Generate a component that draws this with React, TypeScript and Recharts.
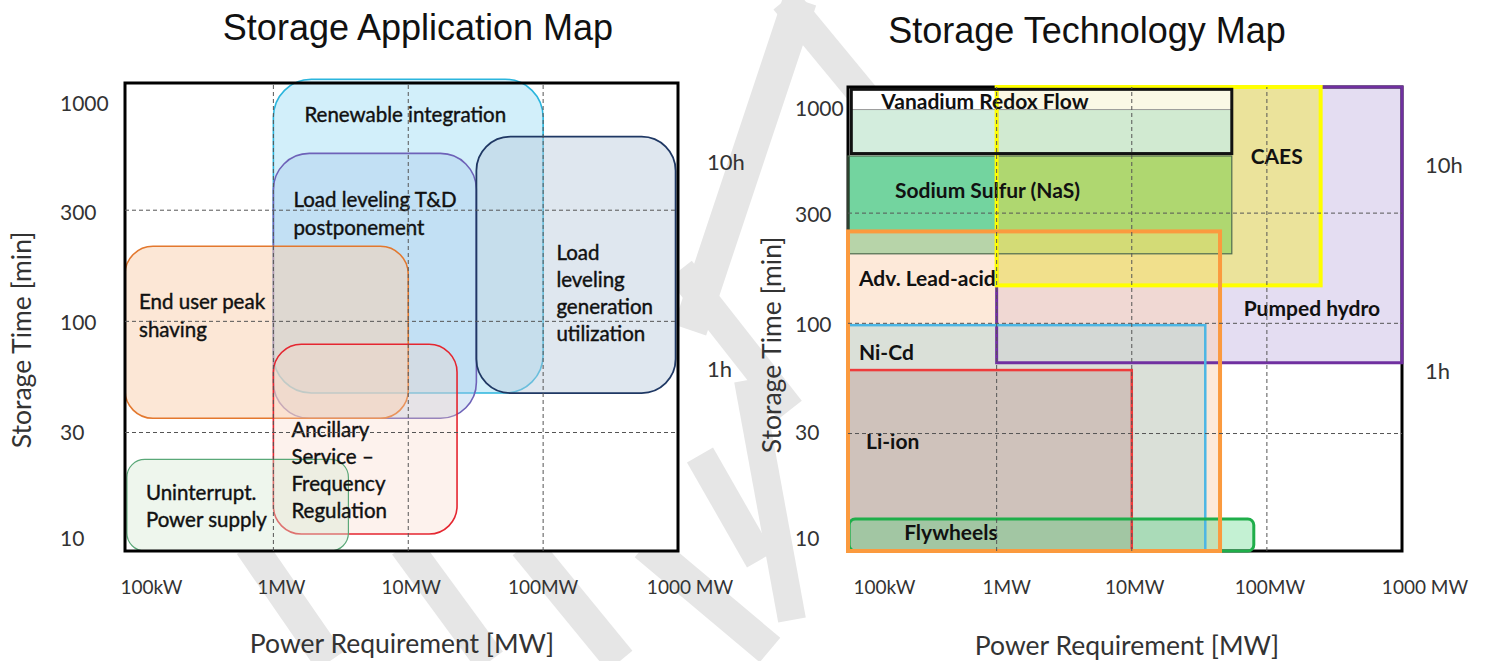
import React from 'react';
import { ComposedChart, XAxis, YAxis, ReferenceArea, ReferenceLine } from 'recharts';

// ---------------- axis data ----------------
const X_TICKS = [0.1, 1, 10, 100, 1000];
const X_TICK_LABELS = ['100kW', '1MW', '10MW', '100MW', '1000 MW'];
const Y_TICKS = [10, 30, 100, 300, 1000];
const Y_TICK_LABELS = ['10', '30', '100', '300', '1000'];
const HOUR_TICKS = [60, 600];
const HOUR_LABELS = ['1h', '10h'];
const X_GRID = [1, 10, 100];
const Y_GRID = [30, 100, 300];
const POWER_MIN = 0.0794;
const POWER_MAX = 1000;
const TIME_MIN = 9.3;
const TIME_MAX = 1190;

// ---------------- Storage Application Map ----------------
const APP_LINES = [
  ['Renewable integration'],
  ['Load leveling T&D', 'postponement'],
  ['Load', 'leveling', 'generation', 'utilization'],
  ['End user peak', 'shaving'],
  ['Ancillary', 'Service –', 'Frequency', 'Regulation'],
  ['Uninterrupt.', 'Power supply'],
];
const APP_P_LOW = [1, 1, 32, 0.0794, 1, 0.082];
const APP_P_HIGH = [100, 32, 960, 10, 23, 3.6];
const APP_T_LOW = [46, 35, 46, 35, 11, 9.3];
const APP_T_HIGH = [1240, 555, 665, 210, 78, 23];

// ---------------- Storage Technology Map ----------------
const TECH_LINES = [
  ['Pumped hydro'],
  ['Sodium Sulfur (NaS)'],
  ['Adv. Lead-acid'],
  ['CAES'],
  ['Vanadium Redox Flow'],
  ['Ni-Cd'],
  ['Li-ion'],
  ['Flywheels'],
];
const TECH_P_LOW = [1, 0.0794, 0.0794, 1, 0.084, 0.0794, 0.0794, 0.081];
const TECH_P_HIGH = [1000, 55, 45, 250, 55, 35, 10, 80];
const TECH_T_LOW = [65, 200, 9.3, 146, 575, 9.3, 9.3, 9.3];
const TECH_T_HIGH = [1190, 560, 250, 1190, 1160, 98, 60, 12.8];
const VRF_BAND_LOW = 575;
const VRF_BAND_HIGH = 930;

// ---------------- styles ----------------
const FONT = "Lato, 'Noto Sans', sans-serif";
const TITLE_FONT = "'Liberation Sans', Arial, sans-serif";
const GRID_STROKE = '#555';

const APP_STYLE = [
  { stroke: '#2bb5dd', fill: '#9bdcf4', fo: 0.45, sw: 1.6, rx: 38, dx: 31, dy: 35, lh: 27 },
  { stroke: '#6e62b8', fill: '#a9c8ea', fo: 0.38, sw: 1.6, rx: 36, dx: 20, dy: 46, lh: 28 },
  { stroke: '#1f3864', fill: '#b8c9dc', fo: 0.45, sw: 1.8, rx: 34, dx: 80, dy: 115, lh: 27 },
  { stroke: '#e3782e', fill: '#f9cfae', fo: 0.5, sw: 1.6, rx: 28, dx: 14, dy: 55, lh: 28 },
  { stroke: '#e52630', fill: '#f8d4c4', fo: 0.3, sw: 1.6, rx: 28, dx: 18, dy: 85, lh: 27 },
  { stroke: '#5aa878', fill: '#d5e9d2', fo: 0.4, sw: 1.2, rx: 18, dx: 19, dy: 33, lh: 27 },
];
// order: pumped, NaS, lead, CAES, VRF, NiCd, Li, Fly
const TECH_STYLE = [
  { stroke: '#7030a0', fill: '#b8a6dc', fo: 0.38, sw: 3, rx: 0, dx: 247, dy: 220 },
  { stroke: '#4f6b4f', fill: '#00b050', fo: 0.55, sw: 1.2, rx: 0, dx: 47, dy: 34 },
  { stroke: '#fb9a3e', fill: '#fbd4b4', fo: 0.5, sw: 4, rx: 0, dx: 11, dy: 46 },
  { stroke: '#ffff00', fill: '#f2e84a', fo: 0.52, sw: 4, rx: 0, dx: 254, dy: 68 },
  { stroke: '#111111', fill: '#ffffff', fo: 0.75, sw: 3, rx: 0, dx: 30, dy: 11 },
  { stroke: '#4db6e4', fill: '#b8d8d8', fo: 0.5, sw: 2.5, rx: 0, dx: 11, dy: 26 },
  { stroke: '#ee3b3b', fill: '#c4a39d', fo: 0.5, sw: 2.5, rx: 0, dx: 18, dy: 70 },
  { stroke: '#1fae4a', fill: '#3ccf6c', fo: 0.3, sw: 3, rx: 6, dx: 55, dy: 13 },
];
const TECH_FILL_ORDER = [0, 1, 2, 3, 4, 5, 6, 7];
const TECH_OUTLINE_ORDER = [0, 1, 3, 4, 5, 6, 7, 2];

const APP_X_DX = [13, 8, 3, 0, 12];
const APP_Y_DY = [-6, -1.5, 0, 1.5, 3.5];
const TECH_X_DX = [23, 10, 3, 3, 23];
const TECH_Y_DY = [-6.5, -2, 0, 0, 4.5];
const HOUR_DY = [0, 15];

// piecewise-log position between the (equally spaced) time ticks
function yPos(v: number): number {
  const t = Y_TICKS;
  let i = 0;
  if (v <= t[1]) i = 0;
  else if (v >= t[t.length - 2]) i = t.length - 2;
  else {
    while (v > t[i + 1]) i++;
  }
  return i + Math.log(v / t[i]) / Math.log(t[i + 1] / t[i]);
}
const Y_DOMAIN = [yPos(TIME_MIN), yPos(TIME_MAX)];

function Box(props: any) {
  const { x, y, width, height, st, mode } = props;
  if (x == null || !isFinite(x) || !isFinite(y)) return null;
  const rx = Math.min(st.rx || 0, width / 2, height / 2);
  return (
    <rect
      x={x}
      y={y}
      width={width}
      height={height}
      rx={rx}
      ry={rx}
      fill={mode === 'fill' || mode === 'both' ? st.fill : 'none'}
      fillOpacity={st.fo}
      stroke={mode === 'stroke' || mode === 'both' ? st.stroke : 'none'}
      strokeWidth={st.sw}
    />
  );
}

function Lines(props: any) {
  const { x, y, lines, st, size, weight, thick } = props;
  if (x == null || !isFinite(x)) return null;
  return (
    <text fontFamily={FONT} fontSize={size} fontWeight={weight} fill="#111" stroke={thick ? '#111' : 'none'} strokeWidth={thick || 0}>
      {lines.map((l: string, i: number) => (
        <tspan key={i} x={x + st.dx} y={y + st.dy + i * (st.lh || 27)} dominantBaseline="central">
          {l}
        </tspan>
      ))}
    </text>
  );
}

function makeXTick(dxs: number[]) {
  return (p: any) => {
    const i = X_TICKS.indexOf(p.payload.value);
    return (
      <text x={p.x + (dxs[i] || 0)} y={594} textAnchor="middle" fontFamily={FONT} fontSize={19} fill="#333">
        {X_TICK_LABELS[i]}
      </text>
    );
  };
}
function makeYTick(startX: number, dys: number[]) {
  return (p: any) => {
    const i = Y_TICKS.map(yPos).findIndex((v) => Math.abs(v - p.payload.value) < 1e-6);
    return (
      <text x={startX} y={p.y + (dys[i] || 0)} dominantBaseline="central" fontFamily={FONT} fontSize={21} fill="#333">
        {Y_TICK_LABELS[i]}
      </text>
    );
  };
}
function makeHourTick(startX: number) {
  return (p: any) => {
    const i = HOUR_TICKS.map(yPos).findIndex((v) => Math.abs(v - p.payload.value) < 1e-6);
    return (
      <text x={startX} y={p.y + (HOUR_DY[i] || 0)} dominantBaseline="central" fontFamily={FONT} fontSize={22} fill="#333">
        {HOUR_LABELS[i]}
      </text>
    );
  };
}

function axes(leftStart: number, hourStart: number, xdx: number[], ydy: number[], lw: number, rw: number) {
  return [
    <XAxis
      key="x"
      xAxisId="p"
      type="number"
      dataKey="p"
      scale="log"
      domain={[POWER_MIN, POWER_MAX]}
      ticks={X_TICKS}
      interval={0}
      allowDataOverflow
      axisLine={false}
      tickLine={false}
      height={50}
      tick={makeXTick(xdx)}
    />,
    <YAxis
      key="y"
      yAxisId="m"
      type="number"
      domain={Y_DOMAIN}
      ticks={Y_TICKS.map(yPos)}
      interval={0}
      allowDataOverflow
      axisLine={false}
      tickLine={false}
      width={lw}
      tick={makeYTick(leftStart, ydy)}
    />,
    <YAxis
      key="h"
      yAxisId="h"
      orientation="right"
      type="number"
      domain={Y_DOMAIN}
      ticks={HOUR_TICKS.map(yPos)}
      interval={0}
      allowDataOverflow
      axisLine={false}
      tickLine={false}
      width={rw}
      tick={makeHourTick(hourStart)}
    />,
  ];
}

function gridLines(prefix: string) {
  return [
    ...X_GRID.map((g) => (
      <ReferenceLine key={prefix + 'x' + g} xAxisId="p" yAxisId="m" x={g} stroke={GRID_STROKE} strokeDasharray="4 3" strokeWidth={1} ifOverflow="visible" />
    )),
    ...Y_GRID.map((g) => (
      <ReferenceLine key={prefix + 'y' + g} xAxisId="p" yAxisId="m" y={yPos(g)} stroke={GRID_STROKE} strokeDasharray="4 3" strokeWidth={1} ifOverflow="visible" />
    )),
  ];
}

const FRAME = { stroke: '#000', fill: '#fff', fo: 1, sw: 3, rx: 0 };

function area(key: string, p0: number, p1: number, t0: number, t1: number, shape: any) {
  return (
    <ReferenceArea
      key={key}
      xAxisId="p"
      yAxisId="m"
      x1={p0}
      x2={p1}
      y1={yPos(t0)}
      y2={yPos(t1)}
      ifOverflow="visible"
      shape={shape}
    />
  );
}

function AppMap() {
  const idx = APP_LINES.map((_, i) => i);
  return (
    <ComposedChart width={744} height={661} margin={{ top: 83, right: 16, bottom: 60, left: 60 }} data={[]}>
      {axes(60, 707, APP_X_DX, APP_Y_DY, 65, 50)}
      {area('bg', POWER_MIN, POWER_MAX, TIME_MIN, TIME_MAX, (p: any) => <Box {...p} st={FRAME} mode="fill" />)}
      {idx.map((i) =>
        area('a' + i, APP_P_LOW[i], APP_P_HIGH[i], APP_T_LOW[i], APP_T_HIGH[i], (p: any) => <Box {...p} st={APP_STYLE[i]} mode="both" />)
      )}
      {gridLines('g')}
      {area('fr', POWER_MIN, POWER_MAX, TIME_MIN, TIME_MAX, (p: any) => <Box {...p} st={FRAME} mode="stroke" />)}
      {idx.map((i) =>
        area('l' + i, APP_P_LOW[i], APP_P_HIGH[i], APP_T_LOW[i], APP_T_HIGH[i], (p: any) => (
          <Lines {...p} lines={APP_LINES[i]} st={APP_STYLE[i]} size={20.5} weight={400} thick={0.4} />
        ))
      )}
    </ComposedChart>
  );
}

function TechMap() {
  const vrf = 4;
  const bandStyle = { stroke: '#9a9a9a', fill: '#a8dcbc', fo: 0.5, sw: 1, rx: 0 };
  return (
    <ComposedChart width={744} height={661} margin={{ top: 87, right: 36, bottom: 60, left: 54 }} data={[]}>
      {axes(51, 1425 - 744, TECH_X_DX, TECH_Y_DY, 50, 50)}
      {area('bg', POWER_MIN, POWER_MAX, TIME_MIN, TIME_MAX, (p: any) => <Box {...p} st={FRAME} mode="fill" />)}
      {gridLines('g')}
      {TECH_FILL_ORDER.map((i) =>
        area('f' + i, TECH_P_LOW[i], TECH_P_HIGH[i], TECH_T_LOW[i], TECH_T_HIGH[i], (p: any) => <Box {...p} st={TECH_STYLE[i]} mode="fill" />)
      )}
      {area('band', TECH_P_LOW[vrf], TECH_P_HIGH[vrf], VRF_BAND_LOW, VRF_BAND_HIGH, (p: any) => <Box {...p} st={bandStyle} mode="both" />)}
      {area('fr', POWER_MIN, POWER_MAX, TIME_MIN, TIME_MAX, (p: any) => <Box {...p} st={FRAME} mode="stroke" />)}
      {TECH_OUTLINE_ORDER.map((i) =>
        area('o' + i, TECH_P_LOW[i], TECH_P_HIGH[i], TECH_T_LOW[i], TECH_T_HIGH[i], (p: any) => <Box {...p} st={TECH_STYLE[i]} mode="stroke" />)
      )}
      {TECH_LINES.map((_, i) =>
        area('l' + i, TECH_P_LOW[i], TECH_P_HIGH[i], TECH_T_LOW[i], TECH_T_HIGH[i], (p: any) => (
          <Lines {...p} lines={TECH_LINES[i]} st={TECH_STYLE[i]} size={21} weight={700} thick={0} />
        ))
      )}
    </ComposedChart>
  );
}

const WATERMARK = [
  [800, 0, 690, 330, 34],
  [785, 0, 880, 115, 30],
  [680, 270, 790, 410, 30],
  [748, 380, 792, 620, 28],
  [250, 545, 330, 661, 32],
  [405, 545, 490, 661, 32],
  [525, 545, 620, 661, 32],
  [645, 545, 770, 650, 32],
  [700, 455, 760, 560, 30],
];

export default function App() {
  return (
    <div style={{ position: 'absolute', left: 0, top: 0, width: 1488, height: 661, background: '#fff', overflow: 'hidden' }}>
      <svg width={1488} height={661} style={{ position: 'absolute', left: 0, top: 0 }}>
        {WATERMARK.map((w, i) => (
          <line key={i} x1={w[0]} y1={w[1]} x2={w[2]} y2={w[3]} stroke="#e6e6e6" strokeWidth={w[4]} />
        ))}
      </svg>
      <div style={{ position: 'absolute', left: 0, top: 0 }}>
        <AppMap />
      </div>
      <div style={{ position: 'absolute', left: 744, top: 0 }}>
        <TechMap />
      </div>
      <svg width={1488} height={661} style={{ position: 'absolute', left: 0, top: 0, pointerEvents: 'none' }}>
        <text x={418} y={40} textAnchor="middle" fontFamily={TITLE_FONT} fontSize={36} fill="#111">
          Storage Application Map
        </text>
        <text x={1087} y={43} textAnchor="middle" fontFamily={TITLE_FONT} fontSize={36} fill="#111">
          Storage Technology Map
        </text>
        <text x={402} y={653} textAnchor="middle" fontFamily={FONT} fontSize={26.5} fill="#333">
          Power Requirement [MW]
        </text>
        <text x={1127} y={655} textAnchor="middle" fontFamily={FONT} fontSize={26.5} fill="#333">
          Power Requirement [MW]
        </text>
        <text transform="translate(31,340) rotate(-90)" textAnchor="middle" fontFamily={FONT} fontSize={26.5} fill="#333">
          Storage Time [min]
        </text>
        <text transform="translate(781,345) rotate(-90)" textAnchor="middle" fontFamily={FONT} fontSize={26.5} fill="#333">
          Storage Time [min]
        </text>
      </svg>
    </div>
  );
}
